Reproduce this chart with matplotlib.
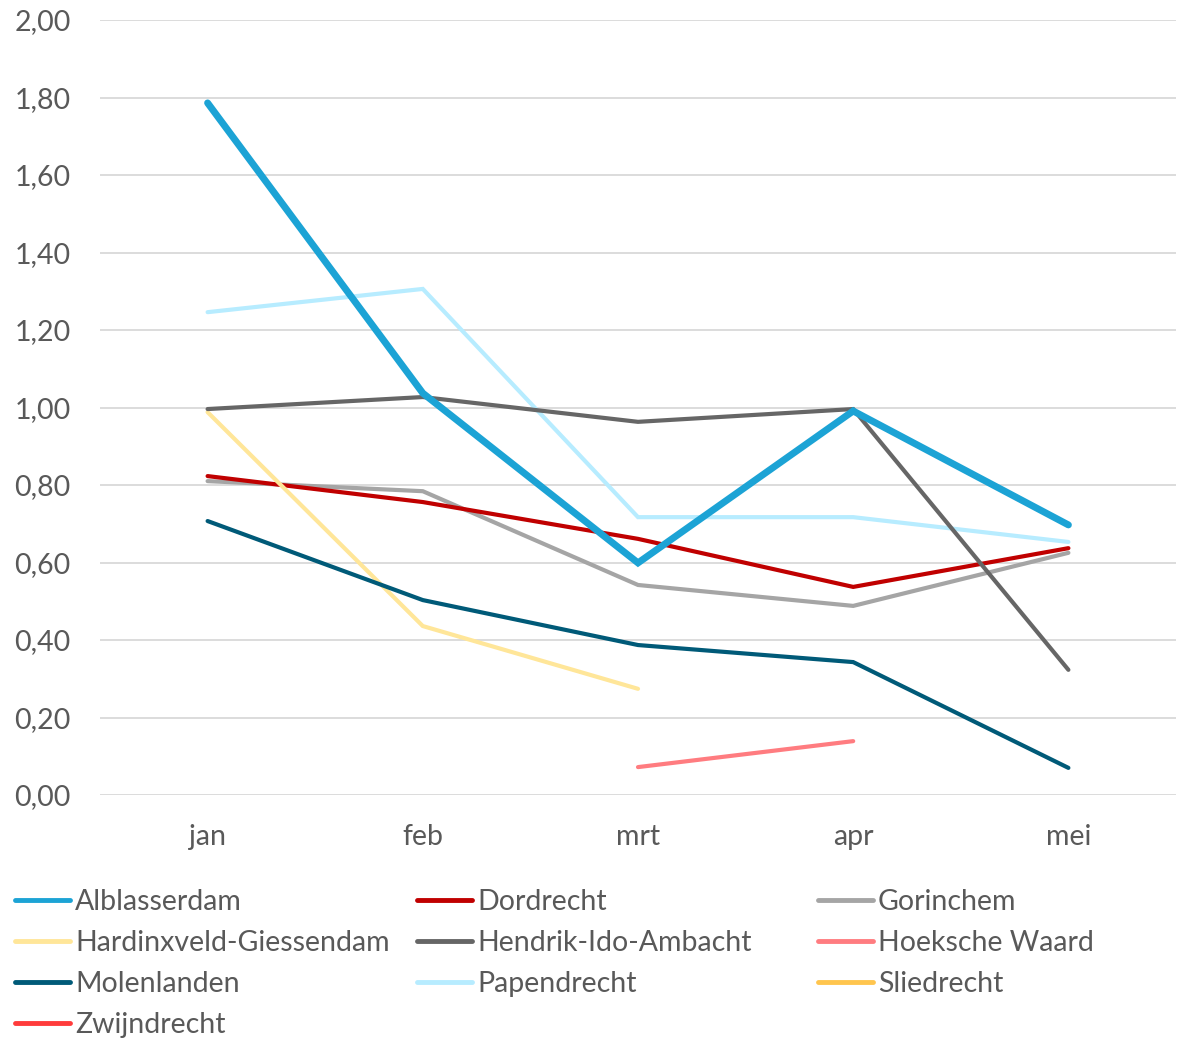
import numpy as np
import matplotlib.pyplot as plt
from matplotlib.lines import Line2D
from matplotlib.ticker import FuncFormatter

plt.rcParams['font.family'] = ['Lato', 'DejaVu Sans']

maanden = ['jan', 'feb', 'mrt', 'apr', 'mei']
nan = np.nan

# waarden per gemeente (nan = geen gegevens)
alblasserdam = [1.786, 1.037, 0.599, 0.991, 0.697]
dordrecht = [0.823, 0.756, 0.661, 0.537, 0.637]
gorinchem = [0.810, 0.784, 0.542, 0.488, 0.625]
hardinxveld = [0.988, 0.436, 0.274, nan, nan]
hendrik_ido = [0.996, 1.027, 0.963, 0.996, 0.323]
hoeksche_waard = [nan, nan, 0.072, 0.139, nan]
molenlanden = [0.707, 0.503, 0.387, 0.343, 0.070]
papendrecht = [1.246, 1.306, 0.717, 0.717, 0.653]
sliedrecht = [nan, nan, nan, nan, nan]
zwijndrecht = [nan, nan, nan, nan, nan]

namen = ['Alblasserdam', 'Dordrecht', 'Gorinchem', 'Hardinxveld-Giessendam',
         'Hendrik-Ido-Ambacht', 'Hoeksche Waard', 'Molenlanden', 'Papendrecht',
         'Sliedrecht', 'Zwijndrecht']
reeksen = [alblasserdam, dordrecht, gorinchem, hardinxveld, hendrik_ido,
           hoeksche_waard, molenlanden, papendrecht, sliedrecht, zwijndrecht]
kleuren = ['#1CA3D5', '#C00000', '#A5A5A5', '#FFE699', '#666666',
           '#FF7C80', '#005A78', '#B7ECFF', '#FFC54E', '#FF3B3B']
diktes = [5.0, 3.0, 3.0, 3.0, 3.0, 3.0, 3.0, 3.0, 3.0, 3.0]

fig = plt.figure(figsize=(11.82, 10.38), dpi=100)
ax = fig.add_axes([100/1182, 1 - 795/1038, 1076/1182, 775/1038])

x = np.arange(len(maanden))
# teken eerst de dunne lijnen, de dikke blauwe lijn bovenop
volgorde = [2, 1, 3, 5, 6, 7, 4, 8, 9, 0]
for i in volgorde:
    ax.plot(x, reeksen[i], color=kleuren[i], lw=diktes[i],
            solid_capstyle='round', solid_joinstyle='miter', zorder=3)

ax.set_xlim(-0.5, 4.5)
ax.set_ylim(0, 2.0)
ax.set_yticks(np.arange(0, 2.01, 0.2))
ax.yaxis.set_major_formatter(FuncFormatter(lambda v, p: f'{v:.2f}'.replace('.', ',')))
ax.set_xticks(x)
ax.set_xticklabels(maanden)
ax.grid(axis='y', color='#D9D9D9', lw=1.3, zorder=0)
for s in ax.spines.values():
    s.set_visible(False)
ax.tick_params(length=0, labelsize=20.5, colors='#595959', pad=21)
ax.tick_params(axis='x', pad=21)

# legenda in drie kolommen, rij voor rij
kolommen_x = [15/1182, 417/1182, 818/1182]
for k in range(3):
    idx = list(range(k, len(namen), 3))
    handles = [Line2D([], [], color=kleuren[i], lw=3.5, solid_capstyle='round') for i in idx]
    fig.legend(handles, [namen[i] for i in idx], loc='upper left',
               bbox_to_anchor=(kolommen_x[k], 1 - 889/1038),
               frameon=False, fontsize=20.5, labelcolor='#595959',
               handlelength=1.93, handletextpad=0.18, labelspacing=0.525,
               borderpad=0, borderaxespad=0)

fig.savefig('out.png', dpi=100)
